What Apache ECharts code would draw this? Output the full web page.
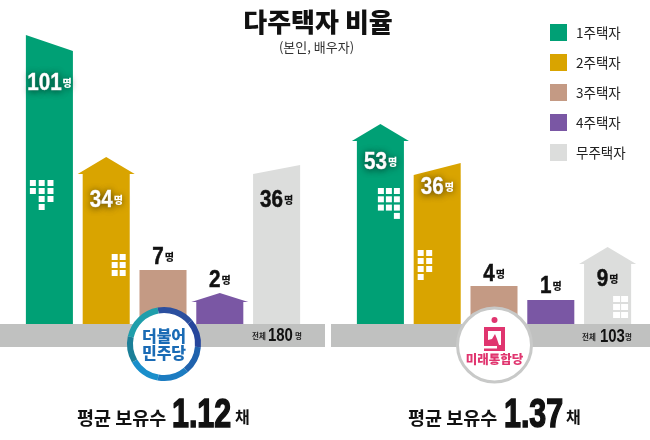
<!DOCTYPE html>
<html><head><meta charset="utf-8">
<style>html,body{margin:0;padding:0;background:#fff}#c{width:650px;height:440px}</style>
<script src="https://cdn.jsdelivr.net/npm/echarts@6/dist/echarts.min.js"></script>
</head><body><div id="c"></div>
<script>
// ---- data ----
const housingTypes = ['1주택자','2주택자','3주택자','4주택자','무주택자'];
const demCounts = [101,34,7,2,36];
const pppCounts = [53,36,4,1,9];
// The buildings are pictorial and not to scale: drawn top of each building, in axis units.
const demHeights = [289,167,54,31,159];
const pppHeights = [200,161,38,24,77];
const partyNames = ['더불어\n민주당','미래통합당'];
const totals = [180,103];
const averages = ['1.12','1.37'];
const titleText = '다주택자 비율';
const subtitleText = '(본인, 배우자)';

// ---- styling of the pictograms ----
const colors = ['#00a075','#d9a400','#c49a84','#7a57a4','#dcdddc'];
const KR = '"Noto Sans CJK KR"';
const NUM = '"Liberation Sans"';
const demStyle = [
 {roof:'slantDown',rise:16,label:48,light:true,win:{x:4,y:-144,dx:8.8,dy:8,w:6,h:6,rows:[[0,1,2],[0,1,2],[1,2],[1]]}},
 {roof:'gable',rise:17,label:43,light:true,win:{x:29,y:-70,dx:8,dy:8,w:6,h:6,rows:[[0,1],[0,1],[0,1]]}},
 {roof:'flat',rise:0,label:-13},
 {roof:'gable',rise:9,label:-13},
 {roof:'slantUp',rise:9,label:35}
];
const pppStyle = [
 {roof:'gable',rise:17,label:38,light:true,win:{x:21,y:-136,dx:8,dy:8.3,w:6,h:6,rows:[[0,1,2],[0,1,2],[0,1,2],[2]]}},
 {roof:'slantUp',rise:12,label:24,light:true,win:{x:4,y:-74,dx:8.5,dy:8,w:6,h:6,rows:[[0,1],[0,1],[0,1],[0]]}},
 {roof:'flat',rise:0,label:-12},
 {roof:'flat',rise:0,label:-14},
 {roof:'gable',rise:17,label:32,win:{x:29,y:-28,dx:8,dy:8,w:7,h:6,rows:[[0,1],[0,1],[0,1]]}}
];

const labelScale = 0.86, labelSize = 24, digitW = 0.556*labelSize*labelScale, unitW = 10;

function makeRender(style, color){
 return function(params, api){
  const i = api.value(0), topV = api.value(1), count = String(api.value(2));
  const base = api.coord([i,0]), top = api.coord([i,topV]);
  const w = api.size([1,0])[0]*0.828;
  const L = base[0]-w/2, R = base[0]+w/2, B = base[1], T = top[1];
  const s = style[i];
  let pts;
  if(s.roof==='flat') pts=[[L,B],[L,T],[R,T],[R,B]];
  else if(s.roof==='slantDown') pts=[[L,B],[L,T],[R,T+s.rise],[R,B]];
  else if(s.roof==='slantUp') pts=[[L,B],[L,T+s.rise],[R,T],[R,B]];
  else pts=[[L,B],[L,T+s.rise],[L-5,T+s.rise],[base[0],T],[R+5,T+s.rise],[R,T+s.rise],[R,B]];
  const children=[{type:'polygon',shape:{points:pts},style:{fill:color}}];
  if(s.win){
   s.win.rows.forEach((row,r)=>row.forEach(c=>children.push({type:'rect',
     shape:{x:L+s.win.x+c*s.win.dx,y:B+s.win.y+r*s.win.dy,width:s.win.w,height:s.win.h},
     style:{fill:'#fff'}})));
  }
  const tc = s.light?'#fff':'#111';
  const shadow = s.light?{textShadowColor:'rgba(0,0,0,0.6)',textShadowBlur:7,textShadowOffsetY:1}:{};
  const total = count.length*digitW+unitW;
  const x0 = base[0]-total/2, y0 = T+s.label;
  children.push({type:'text',z2:10,x:x0,y:y0,scaleX:labelScale,style:Object.assign({
    text:count,x:0,y:0,verticalAlign:'middle',align:'left',
    font:'bold '+labelSize+'px '+NUM,fill:tc,stroke:tc,lineWidth:0.5},shadow)});
  children.push({type:'text',z2:10,style:Object.assign({
    text:'명',x:x0+count.length*digitW+1,y:y0,verticalAlign:'middle',align:'left',
    font:'900 10px '+KR,fill:tc},shadow)});
  return {type:'group',children};
 };
}

const series=[];
[[demCounts,demHeights,demStyle],[pppCounts,pppHeights,pppStyle]].forEach((p,g)=>{
 housingTypes.forEach((name,i)=>{
  series.push({type:'custom',name,xAxisIndex:g,yAxisIndex:g,
   itemStyle:{color:colors[i]},
   encode:{x:0,y:1},
   clip:false,silent:true,
   data:[[i,p[1][i],p[0][i]]],
   renderItem:makeRender(p[2],colors[i])});
 });
});

function txt(text,x,y,font,o){
 o=o||{};
 return {type:'text',z:o.z||50,silent:true,x:x,y:y,scaleX:o.scaleX||1,style:{text,x:0,y:0,font,fill:o.fill||'#111',
   stroke:o.stroke,lineWidth:o.lineWidth,lineHeight:o.lineHeight,
   verticalAlign:'middle',align:o.align||'left'}};
}
function rect(x,y,w,h,fill,z){return {type:'rect',z:z,silent:true,shape:{x,y,width:w,height:h},style:{fill}};}
function arc(cx,cy,a,b,color){
 return {type:'sector',z:101,silent:true,shape:{cx,cy,r:37,r0:31,startAngle:a*Math.PI/180,endAngle:b*Math.PI/180},
   style:{fill:color}};
}
const ringSegs=[[-100,-40,'#2b4f9f'],[-40,5,'#26469c'],[5,50,'#1f62ad'],[50,100,'#1c7cc1'],[100,150,'#1a8fcb'],
 [150,192,'#1b7f98'],[192,260,'#1f9eab']];
const cxA=164, cyA=344, cxB=494.5, cyB=345;
const bigScale=0.76, totScale=0.83;
const graphics=[
 rect(0,324,325,23,'#c0c1c0',0),
 rect(331,324,319,23,'#c0c1c0',0),
 txt(titleText,318,22,'900 26px '+KR,{align:'center'}),
 txt(subtitleText,316.5,47,'400 13px '+KR,{align:'center',fill:'#333'}),
 // left emblem
 {type:'circle',z:100,silent:true,shape:{cx:cxA,cy:cyA,r:34},style:{fill:'#fff'}},
 ...ringSegs.map(s=>arc(cxA,cyA,s[0],s[1],s[2])),
 txt(partyNames[0],cxA,cyA,'900 16px '+KR,{align:'center',fill:'#1a6bb5',lineHeight:17,z:110}),
 // right emblem
 {type:'circle',z:100,silent:true,shape:{cx:cxB,cy:cyB,r:37},style:{fill:'#fff',stroke:'#c8c9c8',lineWidth:3}},
 {type:'circle',z:101,silent:true,shape:{cx:cxB,cy:320,r:3},style:{fill:'#e0356f'}},
 rect(484,327,21,24,'#e0356f',101),
 rect(488,331,13,14,'#fff',102),
 rect(484,346,13,2.5,'#fff',102),
 {type:'polygon',z:103,silent:true,shape:{points:[[488,345],[488,340],[492,339],[495,334],[497,339],[499,345]]},style:{fill:'#e0356f'}},
 txt(partyNames[1],cxB,359,'900 12.5px '+KR,{align:'center',fill:'#e0356f',z:110}),
 // totals
 txt('전체',252,336,'700 7.5px '+KR,{fill:'#222'}),
 txt(String(totals[0]),268,336,'bold 18px '+NUM,{scaleX:totScale}),
 txt('명',295,336,'700 7.5px '+KR,{fill:'#222'}),
 txt('전체',582,337,'700 7.5px '+KR,{fill:'#222'}),
 txt(String(totals[1]),600,337,'bold 18px '+NUM,{scaleX:totScale}),
 txt('명',625,337,'700 7.5px '+KR,{fill:'#222'}),
 // averages
 txt('평균 보유수',77,418,'700 18.5px '+KR),
 txt(averages[0],172,416,'bold 40px '+NUM,{scaleX:bigScale,stroke:'#111',lineWidth:1.5}),
 txt('채',235,417,'700 16px '+KR),
 txt('평균 보유수',408,418,'700 18.5px '+KR),
 txt(averages[1],504,416,'bold 40px '+NUM,{scaleX:bigScale,stroke:'#111',lineWidth:1.5}),
 txt('채',566,417,'700 16px '+KR)
];

const cat={type:'category',show:false,data:housingTypes};
const val={type:'value',show:false,min:0,max:300};
const chart=echarts.init(document.getElementById('c'),null,{renderer:'canvas'});
chart.setOption({
 animation:false,
 backgroundColor:'#fff',
 grid:[{left:21,width:284,top:24,height:300},{left:352,width:284,top:24,height:300}],
 xAxis:[Object.assign({gridIndex:0},cat),Object.assign({gridIndex:1},cat)],
 yAxis:[Object.assign({gridIndex:0},val),Object.assign({gridIndex:1},val)],
 legend:{data:housingTypes.map((n,i)=>({name:n,icon:'rect',itemStyle:{color:colors[i]}})),
  orient:'vertical',left:550,top:24,padding:0,itemWidth:17,itemHeight:17,itemGap:13,selectedMode:false,
  textStyle:{fontFamily:KR,fontSize:13.5,color:'#222',padding:[0,0,0,4]}},
 series,
 graphic:{elements:graphics}
});
</script></body></html>
